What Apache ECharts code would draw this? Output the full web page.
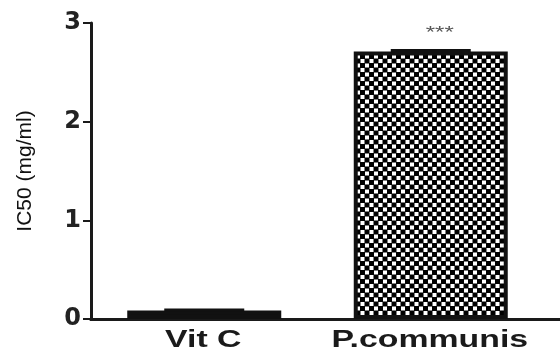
<!DOCTYPE html>
<html>
<head>
<meta charset="utf-8">
<script src="https://cdn.jsdelivr.net/npm/echarts@6/dist/echarts.min.js"></script>
<style>html,body{margin:0;padding:0;background:#fff}#c{width:560px;height:353px}</style>
</head>
<body>
<div id="c"></div>
<script>
var categories = ['Vit C', 'P.communis'];
var means = [0.085, 2.71];
var errors = [0.005, 0.012];
var significance = ['', '***'];
var yTicks = [0, 1, 2, 3];

function checker() {
  var c = document.createElement('canvas');
  c.width = 18; c.height = 18;
  var g = c.getContext('2d');
  g.fillStyle = '#fff'; g.fillRect(0, 0, 18, 18);
  g.fillStyle = '#000';
  var s = 5;
  [[0, 0], [9, 0], [4.5, 4.5], [13.5, 4.5], [0, 9], [9, 9], [4.5, 13.5], [13.5, 13.5]].forEach(function (p) {
    g.fillRect(p[0], p[1], s, s);
    if (p[0] + s > 18) g.fillRect(p[0] - 18, p[1], s, s);
    if (p[1] + s > 18) g.fillRect(p[0], p[1] - 18, s, s);
    if (p[0] + s > 18 && p[1] + s > 18) g.fillRect(p[0] - 18, p[1] - 18, s, s);
  });
  return c;
}

var chart = echarts.init(document.getElementById('c'), null, {renderer: 'canvas'});
var axisColor = '#1a1a1a';
chart.setOption({
  animation: false,
  grid: [
    {left: 91, right: 16, top: 23, bottom: 34},
    {left: 91, right: 0, top: 23, bottom: 34}
  ],
  xAxis: [
    {
      type: 'category', data: categories, gridIndex: 0,
      axisLine: {lineStyle: {color: axisColor, width: 3}},
      axisTick: {alignWithLabel: true, length: 5, lineStyle: {color: axisColor, width: 2}},
      axisLabel: {show: false}
    },
    {
      type: 'value', gridIndex: 1, min: 0, max: 1,
      axisLine: {show: true, lineStyle: {color: axisColor, width: 3}},
      axisTick: {show: false}, axisLabel: {show: false}, splitLine: {show: false}
    }
  ],
  yAxis: [
    {
      type: 'value', gridIndex: 0, min: 0, max: 3, interval: 1,
      name: 'IC50 (mg/ml)', nameLocation: 'middle', nameGap: 55,
      nameTextStyle: {color: '#111', fontFamily: 'Liberation Sans', fontSize: 21},
      axisLine: {show: true, lineStyle: {color: axisColor, width: 3}},
      axisTick: {show: true, length: 8, lineStyle: {color: axisColor, width: 2}},
      axisLabel: {color: '#222', fontFamily: 'DejaVu Sans', fontWeight: 'bold', fontSize: 24, margin: 10,
        formatter: function (v) { return yTicks.indexOf(v) >= 0 ? String(v) : ''; }},
      splitLine: {show: false}
    },
    {type: 'value', gridIndex: 1, show: false, min: 0, max: 3}
  ],
  series: [
    {
      type: 'bar', xAxisIndex: 0, yAxisIndex: 0, barWidth: 154,
      data: means.map(function (v, i) {
        return {value: v, itemStyle: i === 0 ? {color: '#111'} : {color: {image: checker(), repeat: 'repeat'}}};
      }),
      itemStyle: {borderColor: '#111', borderWidth: 4},
      z: 2
    },
    {
      type: 'custom', xAxisIndex: 0, yAxisIndex: 0, z: 3,
      data: means.map(function (v, i) { return [i, v, v + errors[i]]; }),
      renderItem: function (params, api) {
        var i = api.value(0);
        var p = api.coord([i, api.value(2)]);
        var m = api.coord([i, api.value(1)]);
        var base = api.coord([i, 0]);
        var half = 40;
        var children = [
          {type: 'line', shape: {x1: p[0], y1: p[1], x2: p[0], y2: m[1]}, style: {stroke: '#111', lineWidth: 2}},
          {type: 'line', shape: {x1: p[0] - half, y1: p[1], x2: p[0] + half, y2: p[1]}, style: {stroke: '#111', lineWidth: 3}},
          {type: 'text', x: base[0] - 1, y: base[1] + 22, scaleX: 1.47,
            style: {text: categories[i], x: 0, y: 0, align: 'center', verticalAlign: 'middle',
              fill: '#1a1a1a', fontSize: 23, fontWeight: 'bold', fontFamily: 'Liberation Sans'}}
        ];
        var s = significance[i];
        if (s) {
          children.push({type: 'text', x: p[0] + 9, y: p[1] - 9, scaleX: 1.5,
            style: {text: s, x: 0, y: 0, align: 'center', verticalAlign: 'bottom',
              fill: '#555', fontSize: 16, fontFamily: 'Liberation Sans'}});
        }
        return {type: 'group', children: children};
      }
    }
  ]
});
</script>
</body>
</html>
